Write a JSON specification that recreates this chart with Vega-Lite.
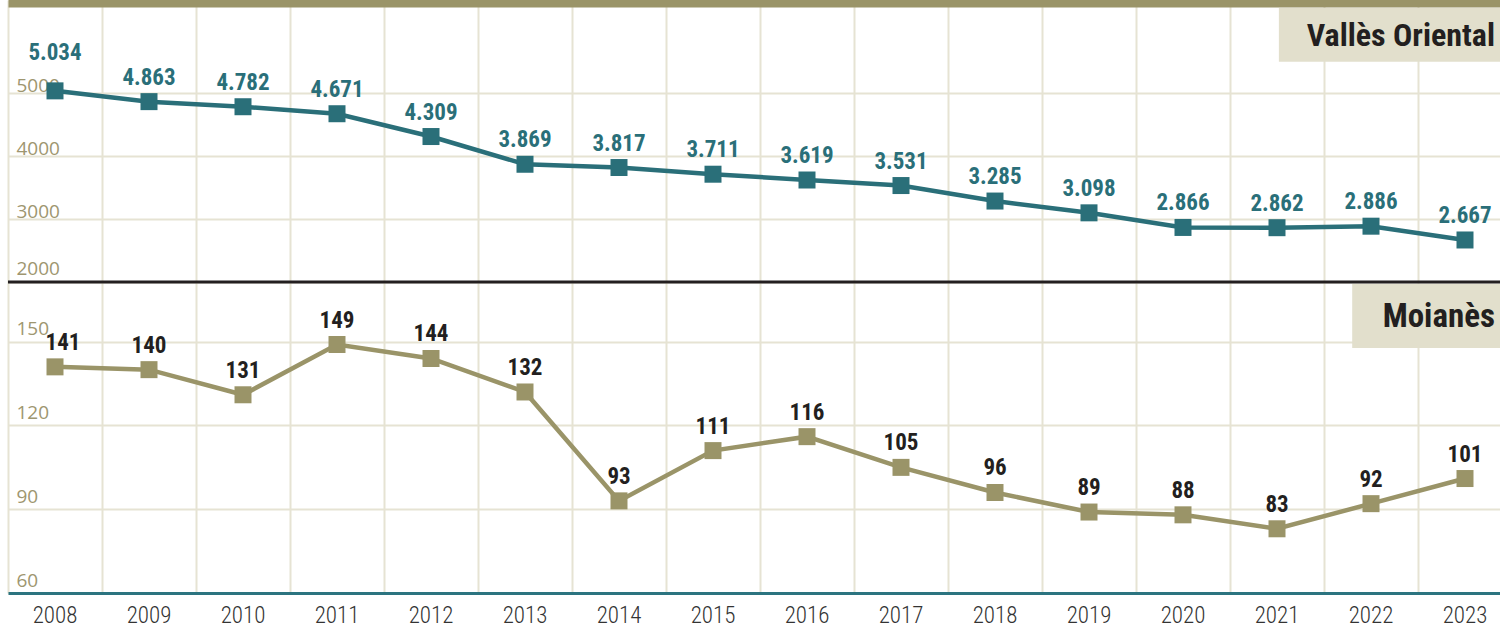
{
  "$schema": "https://vega.github.io/schema/vega-lite/v6.json",
  "autosize": "none",
  "padding": {"left": 8, "top": 0, "right": 0, "bottom": 34},
  "background": "white",
  "width": 1492,
  "height": 593,
  "config": {
    "locale": {"number": {"decimal": ",", "thousands": ".", "grouping": [3], "currency": ["", " €"]}},
    "view": {"stroke": null}
  },
  "datasets": {
    "valles": [
      {"year": "2008", "value": 5034}, {"year": "2009", "value": 4863}, {"year": "2010", "value": 4782},
      {"year": "2011", "value": 4671}, {"year": "2012", "value": 4309}, {"year": "2013", "value": 3869},
      {"year": "2014", "value": 3817}, {"year": "2015", "value": 3711}, {"year": "2016", "value": 3619},
      {"year": "2017", "value": 3531}, {"year": "2018", "value": 3285}, {"year": "2019", "value": 3098},
      {"year": "2020", "value": 2866}, {"year": "2021", "value": 2862}, {"year": "2022", "value": 2886},
      {"year": "2023", "value": 2667}
    ],
    "moianes": [
      {"year": "2008", "value": 141}, {"year": "2009", "value": 140}, {"year": "2010", "value": 131},
      {"year": "2011", "value": 149}, {"year": "2012", "value": 144}, {"year": "2013", "value": 132},
      {"year": "2014", "value": 93}, {"year": "2015", "value": 111}, {"year": "2016", "value": 116},
      {"year": "2017", "value": 105}, {"year": "2018", "value": 96}, {"year": "2019", "value": 89},
      {"year": "2020", "value": 88}, {"year": "2021", "value": 83}, {"year": "2022", "value": 92},
      {"year": "2023", "value": 101}
    ],
    "label1": [{"name": "Vallès Oriental"}],
    "label2": [{"name": "Moianès"}]
  },
  "resolve": {"scale": {"y": "independent"}, "axis": {"x": "independent", "y": "independent"}},
  "layer": [
    {
      "layer": [
        {
          "data": {"name": "moianes"},
          "mark": {"type": "line", "color": "#9a9468", "strokeWidth": 4.5},
          "encoding": {
            "x": {
              "field": "year", "type": "ordinal",
              "scale": {"type": "band", "domain": ["2008","2009","2010","2011","2012","2013","2014","2015","2016","2017","2018","2019","2020","2021","2022","2023"], "range": [0, 1504], "paddingInner": 0, "paddingOuter": 0},
              "axis": {"orient": "bottom", "bandPosition": 0, "labelOffset": 0, "ticks": false, "tickSize": 0, "title": null,
                       "domainColor": "#2c7480", "domainWidth": 3,
                       "labelPadding": 11, "labelColor": "#333333", "labelFont": "Roboto Condensed, Liberation Sans Narrow, DejaVu Sans Condensed, sans-serif",
                       "labelFontSize": 23, "labelFontWeight": 300, "labelBaseline": "top", "labelOverlap": false, "labelAngle": 0,
                       "grid": true, "gridColor": "#e6e3d3", "gridWidth": 2}
            },
            "y": {
              "field": "value", "type": "quantitative",
              "scale": {"domain": [60, 272.4], "nice": false, "zero": false},
              "axis": {"orient": "left", "values": [60, 90, 120, 150], "format": "d", "title": null, "domain": false,
                       "ticks": false, "tickSize": 0, "labelAlign": "left", "labelPadding": -8,
                       "labelBaseline": "alphabetic", "labelOffset": -7, "labelOverlap": false,
                       "labelColor": "#9e9670", "labelFont": "Open Sans", "labelFontSize": 19,
                       "grid": true, "gridColor": "#e6e3d3", "gridWidth": 2}
            }
          }
        },
        {
          "data": {"name": "moianes"},
          "mark": {"type": "square", "filled": true, "size": 289, "opacity": 1, "color": "#9a9468"},
          "encoding": {
            "x": {"field": "year", "type": "ordinal"},
            "y": {"field": "value", "type": "quantitative"}
          }
        },
        {
          "data": {"name": "moianes"},
          "transform": [{"filter": "datum.year !== '2008'"}],
          "mark": {"type": "text", "color": "#231f20", "font": "Roboto Condensed, Liberation Sans Narrow, DejaVu Sans Condensed, sans-serif", "fontWeight": "bold", "fontSize": 23, "baseline": "alphabetic", "dy": -17},
          "encoding": {
            "x": {"field": "year", "type": "ordinal"},
            "y": {"field": "value", "type": "quantitative"},
            "text": {"field": "value", "type": "quantitative", "format": "d"}
          }
        },
        {
          "data": {"name": "moianes"},
          "transform": [{"filter": "datum.year === '2008'"}],
          "mark": {"type": "text", "color": "#231f20", "font": "Roboto Condensed, Liberation Sans Narrow, DejaVu Sans Condensed, sans-serif", "fontWeight": "bold", "fontSize": 23, "baseline": "alphabetic", "dy": -17, "dx": 8},
          "encoding": {
            "x": {"field": "year", "type": "ordinal"},
            "y": {"field": "value", "type": "quantitative"},
            "text": {"field": "value", "type": "quantitative", "format": "d"}
          }
        },
        {
          "data": {"name": "label2"},
          "mark": {"type": "rect", "color": "#e2dfcc"},
          "encoding": {
            "x": {"datum": "2022", "type": "ordinal", "bandPosition": 0.3},
            "x2": {"datum": "2023", "bandPosition": 1},
            "y": {"datum": 170.7, "type": "quantitative"},
            "y2": {"datum": 147.75}
          }
        },
        {
          "data": {"name": "label2"},
          "mark": {"type": "text", "color": "#231f20", "font": "Roboto Condensed, Liberation Sans Narrow, DejaVu Sans Condensed, sans-serif", "fontWeight": "bold", "fontSize": 33, "align": "right", "baseline": "middle", "dx": -17},
          "encoding": {
            "x": {"datum": "2023", "type": "ordinal", "bandPosition": 1},
            "y": {"datum": 158.96, "type": "quantitative"},
            "text": {"field": "name"}
          }
        }
      ]
    },
    {
      "layer": [
        {
          "data": {"name": "valles"},
          "mark": {"type": "line", "color": "#2a6f79", "strokeWidth": 4.5},
          "encoding": {
            "x": {
              "field": "year", "type": "ordinal",
              "axis": {"orient": "top", "labels": false, "ticks": false, "title": null,
                       "domainColor": "#9a9468", "domainWidth": 14, "grid": false}
            },
            "y": {
              "field": "value", "type": "quantitative",
              "scale": {"domain": [-2936.5, 6476.2], "nice": false, "zero": false},
              "axis": {"orient": "left", "values": [2000, 3000, 4000, 5000], "format": "d", "title": null, "domain": false,
                       "ticks": false, "tickSize": 0, "labelAlign": "left", "labelPadding": -8,
                       "labelBaseline": "alphabetic", "labelOffset": {"condition": {"test": "datum.value === 2000", "value": -8}, "value": -2}, "labelOverlap": false,
                       "labelColor": "#9e9670", "labelFont": "Open Sans", "labelFontSize": 19,
                       "grid": true, "gridColor": "#e6e3d3", "gridWidth": 2}
            }
          }
        },
        {
          "data": {"name": "label1"},
          "mark": {"type": "rule", "color": "#231f20", "strokeWidth": 3},
          "encoding": {"y": {"datum": 2000, "type": "quantitative"}}
        },
        {
          "data": {"name": "valles"},
          "mark": {"type": "square", "filled": true, "size": 289, "opacity": 1, "color": "#2a6f79"},
          "encoding": {
            "x": {"field": "year", "type": "ordinal"},
            "y": {"field": "value", "type": "quantitative"}
          }
        },
        {
          "data": {"name": "valles"},
          "transform": [{"filter": "datum.year !== '2008'"}],
          "mark": {"type": "text", "color": "#2a6f79", "font": "Roboto Condensed, Liberation Sans Narrow, DejaVu Sans Condensed, sans-serif", "fontWeight": "bold", "fontSize": 23, "baseline": "alphabetic", "dy": -17},
          "encoding": {
            "x": {"field": "year", "type": "ordinal"},
            "y": {"field": "value", "type": "quantitative"},
            "text": {"field": "value", "type": "quantitative", "format": ",d"}
          }
        },
        {
          "data": {"name": "valles"},
          "transform": [{"filter": "datum.year === '2008'"}],
          "mark": {"type": "text", "color": "#2a6f79", "font": "Roboto Condensed, Liberation Sans Narrow, DejaVu Sans Condensed, sans-serif", "fontWeight": "bold", "fontSize": 23, "baseline": "alphabetic", "dy": -31},
          "encoding": {
            "x": {"field": "year", "type": "ordinal"},
            "y": {"field": "value", "type": "quantitative"},
            "text": {"field": "value", "type": "quantitative", "format": ",d"}
          }
        },
        {
          "data": {"name": "label1"},
          "mark": {"type": "rect", "color": "#e2dfcc"},
          "encoding": {
            "x": {"datum": "2021", "type": "ordinal", "bandPosition": 0.52},
            "x2": {"datum": "2023", "bandPosition": 1},
            "y": {"datum": 6349, "type": "quantitative"},
            "y2": {"datum": 5497}
          }
        },
        {
          "data": {"name": "label1"},
          "mark": {"type": "text", "color": "#231f20", "font": "Roboto Condensed, Liberation Sans Narrow, DejaVu Sans Condensed, sans-serif", "fontWeight": "bold", "fontSize": 32, "align": "right", "baseline": "middle", "dx": -17},
          "encoding": {
            "x": {"datum": "2023", "type": "ordinal", "bandPosition": 1},
            "y": {"datum": 5905, "type": "quantitative"},
            "text": {"field": "name"}
          }
        }
      ]
    }
  ]
}
